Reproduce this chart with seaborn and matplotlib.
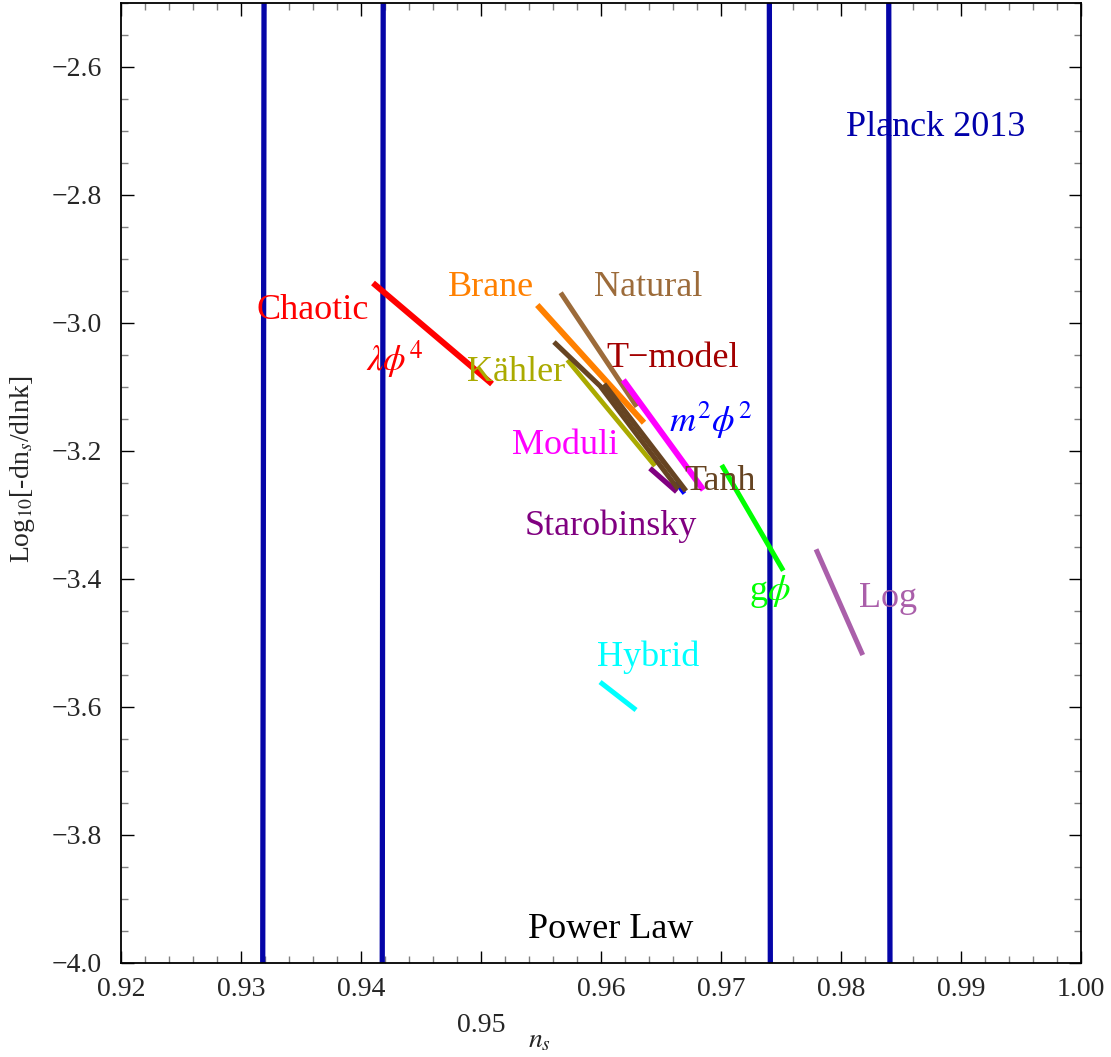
import numpy as np
import pandas as pd
import matplotlib
matplotlib.use("Agg")
import matplotlib.pyplot as plt
import seaborn as sns
from matplotlib.ticker import FixedLocator, FixedFormatter, MultipleLocator

# ---------------- data ----------------
models = ["Hybrid", "Log", "gphi", "Chaotic", "Natural", "Brane", "Moduli",
          "Kahler", "m2phi2", "Starobinsky", "T-model", "Tanh"]
# each model curve as a short polyline
model_ns = [
    [0.95992, 0.96292],
    [0.97792, 0.98181],
    [0.97006, 0.97519],
    [0.94100, 0.95092],
    [0.95664, 0.96298],
    [0.95469, 0.96358],
    [0.96186, 0.96853],
    [0.95720, 0.96450],
    [0.96620, 0.96695],
    [0.96408, 0.96631],
    [0.95608, 0.95992, 0.96642],
    [0.96025, 0.96708],
]
model_v = [
    [-3.5610, -3.6047],
    [-3.3536, -3.5188],
    [-3.2219, -3.3870],
    [-2.9375, -3.0953],
    [-2.9527, -3.1308],
    [-2.9719, -3.1558],
    [-3.0891, -3.2609],
    [-3.0578, -3.2234],
    [-3.2480, -3.2665],
    [-3.2270, -3.2636],
    [-3.0297, -3.0984, -3.2594],
    [-3.0953, -3.2625],
]
model_colors = ["#00FFFF", "#AA5FAA", "#00FF00", "#FF0000", "#9C6B3A", "#FF8000",
                "#FF00FF", "#AAAA00", "#0000FF", "#800080", "#664422", "#664422"]
model_widths = [3.6, 3.6, 3.6, 4.3, 3.6, 4.3, 4.3, 3.4, 3.2, 3.8, 3.6, 3.8]

# Planck 2013 contour (nearly vertical lines)
planck_ns_bottom = [0.93181, 0.94177, 0.97411, 0.98408]
planck_ns_top = [0.93192, 0.94185, 0.97403, 0.98398]
planck_v = [-4.0, -2.5]

# labels
label_texts = ["Chaotic", r"$\lambda\phi^4$", "Brane", "Natural", "T\u2212model",
               "K\u00e4hler", r"$m^2\phi^2$", "Moduli", "Tanh", "Starobinsky",
               r"g$\phi$", "Log", "Hybrid", "Power Law", "Planck 2013"]
label_ns = [0.9360, 0.9428, 0.9508, 0.9639, 0.9660, 0.9529, 0.9691, 0.9570,
            0.9699, 0.9608, 0.9741, 0.9839, 0.9639, 0.9608, 0.9879]
label_v = [-2.980, -3.058, -2.945, -2.945, -3.055, -3.078, -3.152, -3.192,
           -3.247, -3.317, -3.419, -3.431, -3.523, -3.948, -2.694]
label_colors = ["#FF0000", "#FF0000", "#FF8000", "#9C6B3A", "#A30000", "#AAAA00",
                "#0000FF", "#FF00FF", "#664422", "#800080", "#00FF00", "#AA5FAA",
                "#00FFFF", "#000000", "#0000AA"]

x_ticks = [0.92, 0.93, 0.94, 0.95, 0.96, 0.97, 0.98, 0.99, 1.00]
x_ticklabels = ["0.92", "0.93", "0.94", "0.95", "0.96", "0.97", "0.98", "0.99", "1.00"]
y_ticks = [-4.0, -3.8, -3.6, -3.4, -3.2, -3.0, -2.8, -2.6]
y_ticklabels = ["\u22124.0", "\u22123.8", "\u22123.6", "\u22123.4", "\u22123.2",
                "\u22123.0", "\u22122.8", "\u22122.6"]

# ---------------- style ----------------
sns.set_theme(style="white")
plt.rcParams["font.family"] = ["Liberation Serif", "DejaVu Serif"]
plt.rcParams["mathtext.fontset"] = "stix"

fig = plt.figure(figsize=(11.11, 10.57), dpi=100)
ax = fig.add_axes([121 / 1111, 1 - 963 / 1057, 960 / 1111, 960 / 1057])

# Planck lines
planck_color = "#0505A8"
for xb, xt in zip(planck_ns_bottom, planck_ns_top):
    df = pd.DataFrame({"ns": [xb, xt], "v": planck_v})
    sns.lineplot(data=df, x="ns", y="v", ax=ax, color=planck_color, lw=3.8,
                 sort=False, estimator=None, solid_capstyle="butt")

# model segments
for m, xs, ys, c, w in zip(models, model_ns, model_v, model_colors, model_widths):
    df = pd.DataFrame({"ns": xs, "v": ys})
    sns.lineplot(data=df, x="ns", y="v", ax=ax, color=c, lw=w,
                 sort=False, estimator=None, solid_capstyle="butt")

for t, x, y, c in zip(label_texts, label_ns, label_v, label_colors):
    ax.text(x, y, t, color=c, fontsize=26, ha="center", va="center")

ax.set_xlim(0.92, 1.00)
ax.set_ylim(-4.0, -2.5)
ax.xaxis.set_major_locator(FixedLocator(x_ticks))
ax.xaxis.set_major_formatter(FixedFormatter(x_ticklabels))
ax.yaxis.set_major_locator(FixedLocator(y_ticks))
ax.yaxis.set_major_formatter(FixedFormatter(y_ticklabels))
ax.xaxis.set_minor_locator(MultipleLocator(0.002))
ax.yaxis.set_minor_locator(MultipleLocator(0.05))

ax.tick_params(which="both", direction="in", top=True, right=True,
               bottom=True, left=True)
ax.tick_params(which="major", length=9, width=1.0, color="black")
ax.tick_params(which="minor", length=5, width=1.0, color="#808080")
ax.tick_params(axis="x", which="major", labelsize=20, pad=10)
ax.tick_params(axis="y", which="major", labelsize=20, pad=14)
for sp in ax.spines.values():
    sp.set_color("black")
    sp.set_linewidth(1.3)

ax.set_xlabel(r"$n_s$", fontsize=20)
ax.set_ylabel(r"Log$_{10}$[-dn$_s$/dlnk]", fontsize=20)
ax.xaxis.set_label_coords(0.436, -0.068)
ax.yaxis.set_label_coords(-0.088, 0.514)

# staggered label 0.95
ax.xaxis.get_major_ticks()[3].label1.set_y(-0.038)

fig.savefig("out.png", dpi=100, facecolor="white")
